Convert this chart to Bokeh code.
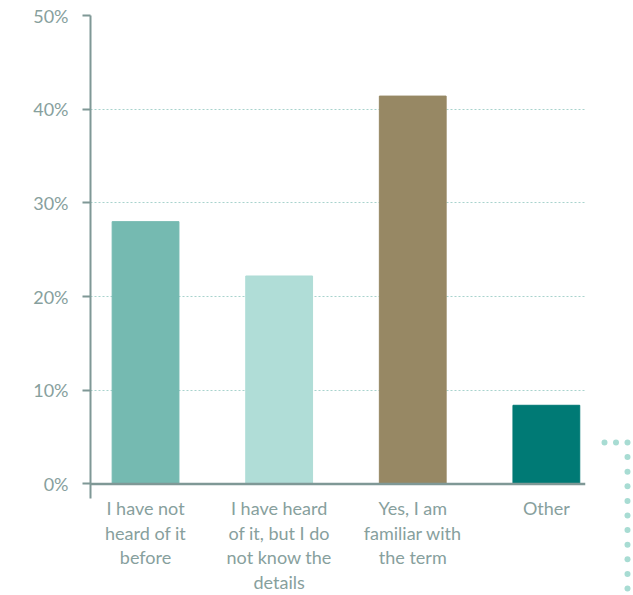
import numpy as np
from bokeh.plotting import figure
from bokeh.models import (ColumnDataSource, FixedTicker, PrintfTickFormatter,
                          Range1d, Span, Spacer)
from bokeh.core.properties import value
from bokeh.layouts import row, column
from bokeh.embed import file_html
from bokeh.resources import INLINE

# ---- data ----
categories = [
    "I have not\nheard of it\nbefore",
    "I have heard\nof it, but I do\nnot know the\ndetails",
    "Yes, I am\nfamiliar with\nthe term",
    "Other",
]
values = [28.0, 22.2, 41.4, 8.4]
bar_colors = ["#75BAB1", "#B0DDD7", "#978864", "#007A75"]
y_ticks = [0, 10, 20, 30, 40, 50]

FONT = "Lato"
TEXT_COLOR = "#87A09D"
AXIS_COLOR = "#7F9896"
LABEL_Y = -1.35

idx = list(range(len(categories)))
src = ColumnDataSource(dict(x=idx, top=values, color=bar_colors,
                            label=categories, ly=[LABEL_Y] * len(idx)))

p = figure(width=595, height=595, output_backend="svg", toolbar_location=None,
           x_range=Range1d(-0.412, 3.293), y_range=Range1d(-11.9, 50),
           min_border_left=90, min_border_right=10, min_border_top=15,
           min_border_bottom=0)
p.outline_line_color = None
p.background_fill_color = "white"
p.border_fill_color = "white"

p.vbar(x="x", top="top", bottom=0, width=0.5, color="color", source=src)

# grid
p.xgrid.visible = False
p.ygrid.ticker = FixedTicker(ticks=y_ticks[1:])
p.ygrid.grid_line_color = "#A8D3CD"
p.ygrid.grid_line_dash = "2 2"
p.ygrid.grid_line_width = 1.2

# x axis line at 0
p.add_layout(Span(location=0, dimension="width", line_color=AXIS_COLOR,
                  line_width=2.5))

# y axis
ya = p.yaxis[0]
ya.bounds = (-1.5, 50)
ya.ticker = FixedTicker(ticks=y_ticks)
ya.formatter = PrintfTickFormatter(format="%d%%")
ya.axis_line_color = AXIS_COLOR
ya.axis_line_width = 2
ya.major_tick_line_color = AXIS_COLOR
ya.major_tick_line_width = 2
ya.major_tick_out = 8
ya.major_tick_in = 0
ya.minor_tick_line_color = None
ya.major_label_standoff = 14
ya.major_label_text_font = FONT
ya.major_label_text_font_size = "18px"
ya.major_label_text_color = TEXT_COLOR

# x axis hidden; category labels as text
p.xaxis.visible = False
p.text(x="x", y="ly", text="label", source=src, text_font=value(FONT),
       text_font_size=value("18px"), text_color=TEXT_COLOR,
       text_align="center", text_baseline="top", text_line_height=1.13)

# ---- decorative dotted corner ----
p2 = figure(width=38, height=158, output_backend="svg", toolbar_location=None,
            x_range=Range1d(595, 633), y_range=Range1d(595, 437),
            x_axis_type=None, y_axis_type=None,
            min_border_left=0, min_border_right=0, min_border_top=0,
            min_border_bottom=0)
p2.outline_line_color = None
p2.xgrid.visible = False
p2.ygrid.visible = False
row_x = np.array([604, 615.5])
col_y = 442 + 14.6 * np.arange(11)
dx = np.concatenate([row_x, np.full(len(col_y), 627.0)])
dy = np.concatenate([np.full(len(row_x), 442.0), col_y])
p2.scatter(dx, dy, size=6, color="#A8DCD3", line_color=None)

layout = row(p, column(Spacer(width=38, height=437), p2, spacing=0), spacing=0)
open("out.html", "w").write(file_html(layout, INLINE))
